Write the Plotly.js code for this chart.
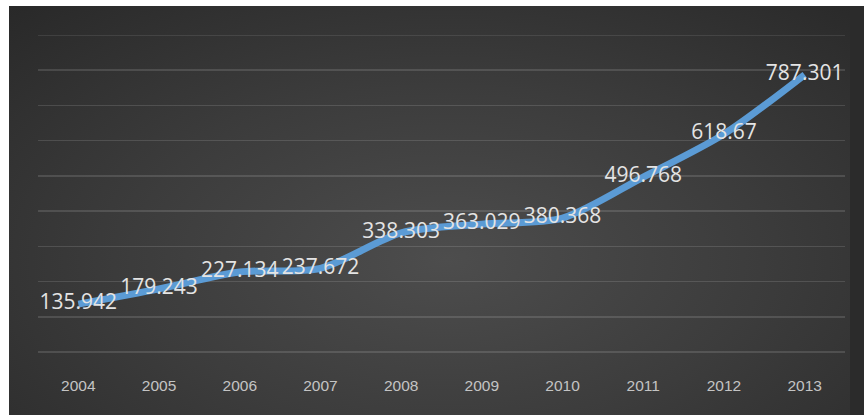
<!DOCTYPE html>
<html>
<head>
<meta charset="utf-8">
<script src="https://cdn.plot.ly/plotly-3.0.1.min.js"></script>
<style>
  html, body { margin: 0; padding: 0; background: #ffffff; width: 864px; height: 415px; overflow: hidden; }
  #frame { position: absolute; left: 9px; top: 6px; width: 855px; height: 409px; background: #2b2b2b; }
  #chart { position: absolute; left: 0; top: 0; width: 841px; height: 409px;
           background: radial-gradient(ellipse 75% 85% at 52% 62%, #4d4d4d 0%, #3c3c3c 50%, #292929 100%); }
</style>
</head>
<body>
<div id="frame"><div id="chart"></div></div>
<script>
const years = ['2004','2005','2006','2007','2008','2009','2010','2011','2012','2013'];
const values = [135.942, 179.243, 227.134, 237.672, 338.303, 363.029, 380.368, 496.768, 618.67, 787.301];
const labels = values.map(v => String(v));
const yMax = 900;

const trace = {
  x: years,
  y: values,
  type: 'scatter',
  mode: 'lines+text',
  text: labels,
  textposition: 'middle center',
  textfont: { family: 'Open Sans, sans-serif', size: 21, color: '#e4e4e4' },
  line: { color: '#5b9bd5', width: 7, shape: 'spline', smoothing: 0.8 },
  hoverinfo: 'none',
  cliponaxis: false
};

const gridColor = 'rgba(255,255,255,0.13)';

const layout = {
  width: 841,
  height: 409,
  margin: { l: 29, r: 5, t: 29, b: 63 },
  paper_bgcolor: 'rgba(0,0,0,0)',
  plot_bgcolor: 'rgba(0,0,0,0)',
  showlegend: false,
  xaxis: {
    type: 'category',
    range: [-0.5, 9.5],
    showgrid: false,
    zeroline: false,
    showline: false,
    ticks: '',
    ticklabelstandoff: 22,
    tickfont: { family: 'Liberation Sans, Arial, sans-serif', size: 15.5, color: '#c4c4c4' }
  },
  yaxis: {
    range: [0, yMax],
    dtick: 100,
    tick0: 0,
    showticklabels: false,
    showgrid: true,
    gridcolor: gridColor,
    gridwidth: 1.5,
    zeroline: true,
    zerolinecolor: gridColor,
    zerolinewidth: 1.5,
    showline: false,
    ticks: ''
  },
  shapes: [{
    type: 'line', xref: 'paper', yref: 'y', x0: 0, x1: 1, y0: yMax, y1: yMax,
    layer: 'below', line: { color: gridColor, width: 1.5 }
  }]
};

Plotly.newPlot('chart', [trace], layout, { displayModeBar: false, staticPlot: true });
</script>
</body>
</html>
